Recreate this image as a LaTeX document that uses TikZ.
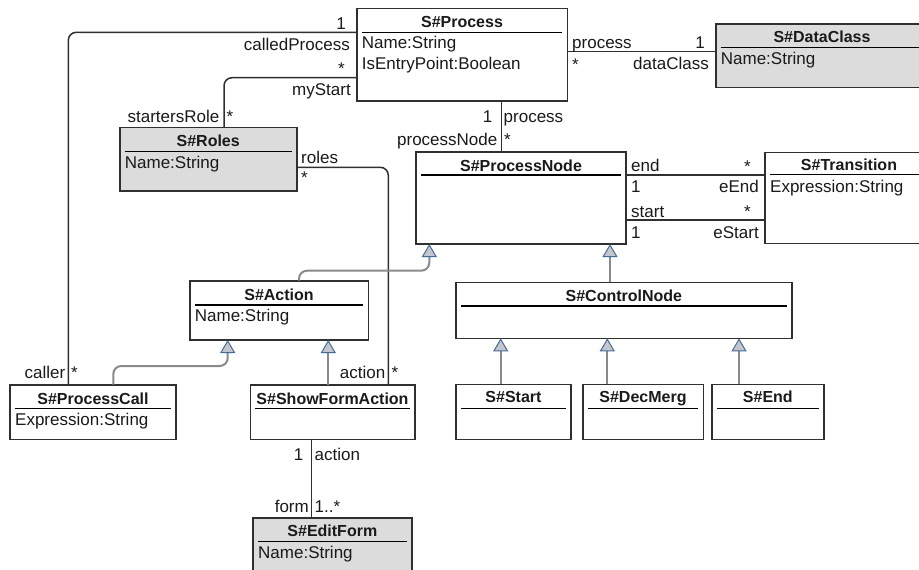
\documentclass[tikz,border=0pt]{standalone}
\usepackage{fontspec}
\setmainfont{Liberation Sans}
\usetikzlibrary{arrows.meta,calc}
\definecolor{boxc}{HTML}{303030}
\definecolor{grayfill}{HTML}{DCDCDC}
\definecolor{linec}{HTML}{303030}
\definecolor{genc}{HTML}{8A8A8A}
\definecolor{arrowc}{HTML}{4A6A96}
\definecolor{arrowfill}{HTML}{C4C6CA}
\definecolor{txtc}{HTML}{1A1A1A}
\tikzset{
  cls/.style={draw=boxc, line width=1.6pt, fill=white, anchor=north west, inner sep=0pt, outer sep=0pt},
  clsg/.style={cls, fill=grayfill},
  ttl/.style={font=\fontsize{16}{19}\selectfont\bfseries, anchor=base, inner sep=0pt, text=txtc},
  attr/.style={anchor=base west, inner sep=0pt, text=txtc},
  lbe/.style={anchor=base east, inner sep=0pt, text=txtc},
  lbw/.style={anchor=base west, inner sep=0pt, text=txtc},
  sepl/.style={line width=1.2pt, draw=black},
  assoc/.style={draw=linec, line width=1.5pt, rounded corners=8pt},
  gen/.style={draw=genc, line width=2pt, rounded corners=8pt,
    -{Triangle[length=13pt,width=15pt,line width=1pt,color=arrowc,fill=arrowfill]}},
}
\newcommand{\sepline}[2]{\draw[sepl] ([xshift=5pt,yshift=-#2pt]#1.north west) -- ([xshift=-5pt,yshift=-#2pt]#1.north east);}
\begin{document}
\begin{tikzpicture}[x=1pt,y=-1pt,font=\fontsize{17}{19}\selectfont]
\useasboundingbox (0,0) rectangle (919,570);
\clip (0,0) rectangle (919,570);
\fill[white] (0,0) rectangle (919,570);

% classes
\node[cls, minimum width=210.6pt, minimum height=92.4pt] (process) at (356.7,8.3) {};
\node[clsg, minimum width=212.6pt, minimum height=63.3pt] (dataclass) at (715.7,24) {};
\node[clsg, minimum width=177pt, minimum height=63.7pt] (roles) at (119.7,127.3) {};
\node[cls, minimum width=210pt, minimum height=92.3pt] (pnode) at (416,151.7) {};
\node[cls, minimum width=168pt, minimum height=91pt] (trans) at (765,152.3) {};
\node[cls, minimum width=178.6pt, minimum height=59.3pt] (action) at (189.7,280.7) {};
\node[cls, minimum width=166pt, minimum height=54.6pt] (pcall) at (10,384.7) {};
\node[cls, minimum width=164.4pt, minimum height=54.6pt] (sfa) at (250.3,384.7) {};
\node[cls, minimum width=335.7pt, minimum height=56pt] (cnode) at (456,282.3) {};
\node[cls, minimum width=115pt, minimum height=55pt] (start) at (456,384.3) {};
\node[cls, minimum width=120.6pt, minimum height=55pt] (decmerg) at (582.7,384.3) {};
\node[cls, minimum width=112.3pt, minimum height=55pt] (endn) at (711.7,384.3) {};
\node[clsg, minimum width=158.7pt, minimum height=70pt] (editform) at (253,518) {};

% separators
\sepline{process}{24}
\sepline{dataclass}{23.7}
\sepline{roles}{24.4}
\sepline{pnode}{23.3}
\sepline{trans}{22.3}
\sepline{action}{24.3}
\sepline{pcall}{24}
\sepline{sfa}{24}
\sepline{cnode}{23.7}
\sepline{start}{24}
\sepline{decmerg}{24}
\sepline{endn}{24}
\sepline{editform}{23.7}

% titles
\node[ttl] (t1) at ([yshift=-19.4pt]process.north) {S\#Process};
\node[ttl] (t2) at ([yshift=-18.7pt]dataclass.north) {S\#DataClass};
\node[ttl] (t3) at ([yshift=-19.4pt]roles.north) {S\#Roles};
\node[ttl] (t4) at ([yshift=-19.3pt]pnode.north) {S\#ProcessNode};
\node[ttl] (t5) at ([yshift=-17.9pt]trans.north) {S\#Transition};
\node[ttl] (t6) at ([yshift=-19.3pt]action.north) {S\#Action};
\node[ttl] (t7) at ([yshift=-19.6pt]pcall.north) {S\#ProcessCall};
\node[ttl] (t8) at ([yshift=-19.6pt]sfa.north) {S\#ShowFormAction};
\node[ttl] (t9) at ([yshift=-19.4pt]cnode.north) {S\#ControlNode};
\node[ttl] (t10) at ([yshift=-18.6pt]start.north) {S\#Start};
\node[ttl] (t11) at ([yshift=-18.6pt]decmerg.north) {S\#DecMerg};
\node[ttl] (t12) at ([yshift=-18.6pt]endn.north) {S\#End};
\node[ttl] (t13) at ([yshift=-18.2pt]editform.north) {S\#EditForm};

% attributes
\node[attr] (a1) at ([xshift=5pt,yshift=-40.4pt]process.north west) {Name:String};
\node[attr] (a2) at ([xshift=5pt,yshift=-61pt]process.north west) {IsEntryPoint:Boolean};
\node[attr] (a3) at ([xshift=5pt,yshift=-40.3pt]dataclass.north west) {Name:String};
\node[attr] (a4) at ([xshift=5pt,yshift=-41pt]roles.north west) {Name:String};
\node[attr] (a5) at ([xshift=5pt,yshift=-39.7pt]trans.north west) {Expression:String};
\node[attr] (a6) at ([xshift=5pt,yshift=-40.3pt]action.north west) {Name:String};
\node[attr] (a7) at ([xshift=5pt,yshift=-40.3pt]pcall.north west) {Expression:String};
\node[attr] (a8) at ([xshift=5pt,yshift=-40.3pt]editform.north west) {Name:String};

% associations
\draw[assoc] ([yshift=-24pt]process.north west) -| ([xshift=58.3pt]pcall.north west);
\draw[assoc] ([yshift=-69.4pt]process.north west) -| ([xshift=104.3pt]roles.north west);
\draw[assoc] ([yshift=-40pt]roles.north east) -| ([xshift=-26.4pt]sfa.north east);
\coordinate (pb) at ([xshift=145pt]process.south west);
\draw[assoc] (pb) -- (pb |- pnode.north);
\coordinate (pr) at ([yshift=-43.4pt]process.north east);
\draw[assoc] (pr) -- (pr -| dataclass.west);
\coordinate (pe) at ([yshift=-23.3pt]pnode.north east);
\draw[assoc] (pe) -- (pe -| trans.west);
\coordinate (ps) at ([yshift=-68.3pt]pnode.north east);
\draw[assoc] (ps) -- (ps -| trans.west);
\coordinate (sb) at ([xshift=61.4pt]sfa.south west);
\draw[assoc] (sb) -- (sb |- editform.north);

% generalizations
\draw[gen] ([xshift=109.3pt]action.north west) |- ([xshift=13.3pt,yshift=-26.7pt]pnode.south west) -- ([xshift=13.3pt]pnode.south west);
\coordinate (cn) at ([xshift=154pt]cnode.north west);
\draw[gen] (cn) -- (cn |- pnode.south);
\draw[gen] ([xshift=103.3pt]pcall.north west) |- ([xshift=38pt,yshift=-26pt]action.south west) -- ([xshift=38pt]action.south west);
\coordinate (sf) at ([xshift=78pt]sfa.north west);
\draw[gen] (sf) -- (sf |- action.south);
\coordinate (st) at ([xshift=44.7pt]start.north west);
\draw[gen] (st) -- (st |- cnode.south);
\coordinate (dm) at ([xshift=24.6pt]decmerg.north west);
\draw[gen] (dm) -- (dm |- cnode.south);
\coordinate (en) at ([xshift=27.3pt]endn.north west);
\draw[gen] (en) -- (en |- cnode.south);

% end labels
\node[lbe] (l1) at (346,29.3) {1};
\node[lbe] (l2) at (350,50.3) {calledProcess};
\node[lbe] (l3) at (345,74.5) {*};
\node[lbe] (l4) at (351,95.3) {myStart};
\node[lbe] (l5) at (219.5,122) {startersRole};
\node[lbw] (l6) at (226.5,122) {*};
\node[lbe] (l7) at (65.5,378.7) {caller};
\node[lbw] (l8) at (71,378.7) {*};
\node[lbw] (l9) at (301,163.7) {roles};
\node[lbw] (l10) at (301,183.5) {*};
\node[lbe] (l11) at (385.5,378.7) {action};
\node[lbw] (l12) at (391.5,378.7) {*};
\node[lbe] (l13) at (492.5,122) {1};
\node[lbw] (l14) at (503.5,122) {process};
\node[lbe] (l15) at (497.5,145.3) {processNode};
\node[lbw] (l16) at (504,145.3) {*};
\node[lbw] (l17) at (572,48.7) {process};
\node[lbe] (l18) at (705,48.7) {1};
\node[lbw] (l19) at (572,70) {*};
\node[lbe] (l20) at (709,69.3) {dataClass};
\node[lbw] (l21) at (631,171.7) {end};
\node[lbe] (l22) at (751,172) {*};
\node[lbw] (l23) at (631,192.7) {1};
\node[lbe] (l24) at (759,192.7) {eEnd};
\node[lbw] (l25) at (631,217) {start};
\node[lbe] (l26) at (751,217.5) {*};
\node[lbw] (l27) at (631,238.3) {1};
\node[lbe] (l28) at (759,238.3) {eStart};
\node[lbe] (l29) at (303.5,460) {1};
\node[lbw] (l30) at (314.5,460) {action};
\node[lbe] (l31) at (309,512) {form};
\node[lbw] (l32) at (314.5,512) {1..*};
\end{tikzpicture}
\end{document}
